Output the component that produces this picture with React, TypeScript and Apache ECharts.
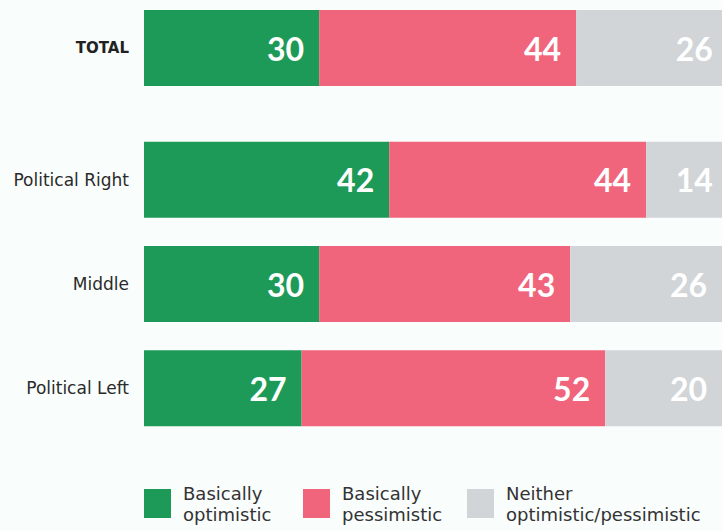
import React, { useEffect, useRef } from "react";
import * as echarts from "echarts";

const totalCategory = ["TOTAL"];
const groupCategories = ["Political Right", "Middle", "Political Left"];
const seriesNames = ["Basically\noptimistic", "Basically\npessimistic", "Neither\noptimistic/pessimistic"];
const totalValues = [[30], [44], [26]];
const groupValues = [
  [42, 30, 27],
  [44, 43, 52],
  [14, 26, 20],
];
const colors = ["#1e9a58", "#f0647c", "#d1d5d8"];

export default function App() {
  const ref = useRef<HTMLDivElement>(null);
  useEffect(() => {
    document.body.style.margin = "0";
    const chart = echarts.init(ref.current!, null, { renderer: "svg" });
    const font = "'DejaVu Sans', sans-serif";
    const labelStyle = {
      show: true,
      position: "insideRight",
      distance: 15,
      color: "#ffffff",
      fontSize: 32,
      fontWeight: "bold",
      fontFamily: "Lato, sans-serif",
    };
    const series: any[] = [];
    seriesNames.forEach((name, i) => {
      series.push({
        name,
        type: "bar",
        stack: "a",
        xAxisIndex: 0,
        yAxisIndex: 0,
        barWidth: 76,
        clip: false,
        itemStyle: { color: colors[i] },
        label: labelStyle,
        data: totalValues[i],
      });
      series.push({
        name,
        type: "bar",
        stack: "b",
        xAxisIndex: 1,
        yAxisIndex: 1,
        barWidth: 76,
        clip: false,
        itemStyle: { color: colors[i] },
        label: labelStyle,
        data: groupValues[i],
      });
    });
    const legendBase = {
      top: 475.5,
      padding: 0,
      itemWidth: 27,
      itemHeight: 29,
      icon: "rect",
      itemGap: 0,
      selectedMode: false,
      textStyle: {
        fontFamily: font,
        fontSize: 18,
        color: "#333333",
        lineHeight: 21,
        padding: [14, 0, 0, 7],
      },
    };
    const yAxisBase = {
      type: "category",
      inverse: true,
      axisLine: { show: false },
      axisTick: { show: false },
      axisLabel: {
        margin: 15,
        color: "#2a2a2a",
        fontSize: 17,
        fontFamily: font,
      },
    };
    chart.setOption({
      animation: false,
      backgroundColor: "#f9fdfc",
      color: colors,
      grid: [
        { left: 144, right: 0, top: 10, height: 76 },
        { left: 144, right: 0, top: 127.5, height: 313 },
      ],
      xAxis: [
        { type: "value", min: 0, max: 99, show: false, gridIndex: 0 },
        { type: "value", min: 0, max: 99, show: false, gridIndex: 1 },
      ],
      yAxis: [
        {
          ...yAxisBase,
          gridIndex: 0,
          data: totalCategory,
          axisLabel: { ...yAxisBase.axisLabel, fontWeight: "bold", fontSize: 15, color: "#222222", lineHeight: 20, padding: [4, 0, 0, 0] },
        },
        { ...yAxisBase, gridIndex: 1, data: groupCategories },
      ],
      legend: [
        { ...legendBase, left: 144, data: [seriesNames[0]] },
        { ...legendBase, left: 303, data: [seriesNames[1]] },
        { ...legendBase, left: 467, data: [seriesNames[2]] },
      ],
      series,
    });
    return () => chart.dispose();
  }, []);
  return <div ref={ref} style={{ width: 722, height: 531 }} />;
}
